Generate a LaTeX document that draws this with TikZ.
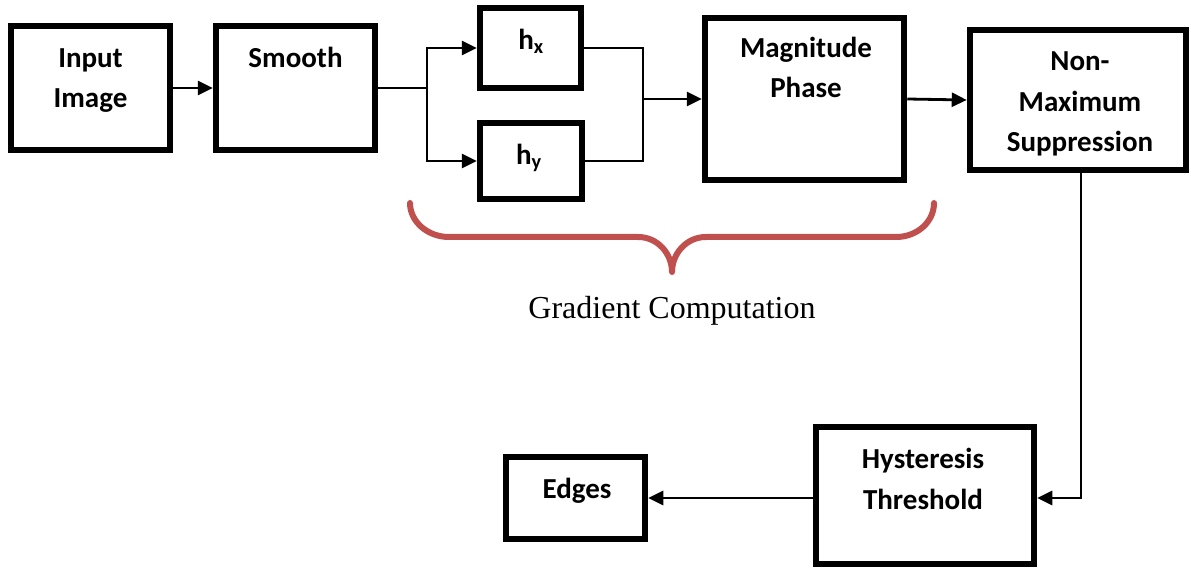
\documentclass[tikz,border=0pt]{standalone}
\usepackage{fontspec}
\setmainfont{Carlito}
\newfontfamily\serifrm{Liberation Serif}
\usetikzlibrary{arrows.meta}
\definecolor{bracered}{HTML}{C0504D}
\tikzset{
  box/.style={draw=black, line width=6.5pt, fill=white, inner sep=0pt, rectangle},
  lbl/.style={font=\fontsize{29}{40.5}\selectfont\bfseries, align=center, anchor=base, inner sep=0pt},
  conn/.style={line width=2.8pt, -{Triangle[length=15pt,width=14pt]}},
  plain/.style={line width=2.8pt},
  brace/.style={draw=bracered, line width=6pt, line cap=round, line join=round}
}
\begin{document}
\begin{tikzpicture}[x=1pt,y=-1pt]
\useasboundingbox (0,0) rectangle (1191,569);
% boxes
\node[box, minimum width=159pt, minimum height=124pt] (input) at (90.5,88) {};
\node[box, minimum width=159pt, minimum height=124pt] (smooth) at (295.5,88) {};
\node[box, minimum width=101pt, minimum height=80pt] (hx) at (530.5,48) {};
\node[box, minimum width=102pt, minimum height=76pt] (hy) at (531,161) {};
\node[box, minimum width=199pt, minimum height=162pt] (mag) at (804.5,99) {};
\node[box, minimum width=216pt, minimum height=140pt] (nms) at (1078,100) {};
\node[box, minimum width=218pt, minimum height=137pt] (hyst) at (925,495.5) {};
\node[box, minimum width=139pt, minimum height=82pt] (edges) at (575.5,498) {};
% labels (base = baseline of the last line)
\node[lbl] (tinput) at (90.5,108) {Input\\Image};
\node[lbl] (tsmooth) at (295.5,68) {Smooth};
\node[lbl] (thx) at (531,50) {h\textsubscript{x}};
\node[lbl] (thy) at (529,165) {h\textsubscript{y}};
\node[lbl] (tmag) at (806,98) {Magnitude\\Phase};
\node[lbl] (tnms) at (1080,152) {Non-\\Maximum\\Suppression};
\node[lbl] (thyst) at (923,509) {Hysteresis\\Threshold};
\node[lbl] (tedges) at (577,498) {Edges};
\node[font=\fontsize{32}{38}\selectfont\serifrm, anchor=base, inner sep=0pt] (tgrad) at (672,318) {Gradient Computation};
% connectors
\coordinate (split) at (427,88);
\coordinate (join) at (643,99);
\coordinate (turn) at (1081,498);
\draw[conn] (input.east) -- (smooth.west);
\draw[plain] (smooth.east) -- (split);
\draw[conn] (split) |- (hx.west);
\draw[conn] (split) |- (hy.west);
\draw[plain] (hx.east) -| (join);
\draw[plain] (hy.east) -| (join);
\draw[conn] (join) -- (mag.west |- join);
\draw[conn] (mag.east) -- (nms.west);
\draw[conn] (nms.south -| turn) |- (hyst.east |- turn);
\draw[conn] (hyst.west |- edges.east) -- (edges.east);
% brace
\draw[brace] (410,203) .. controls (410,222) and (428,237) .. (449,237)
  -- (638,237) .. controls (658,237) and (672,254) .. (672,272)
  .. controls (672,254) and (686,237) .. (706,237)
  -- (896,237) .. controls (917,237) and (934,222) .. (934,203);
\end{tikzpicture}
\end{document}
